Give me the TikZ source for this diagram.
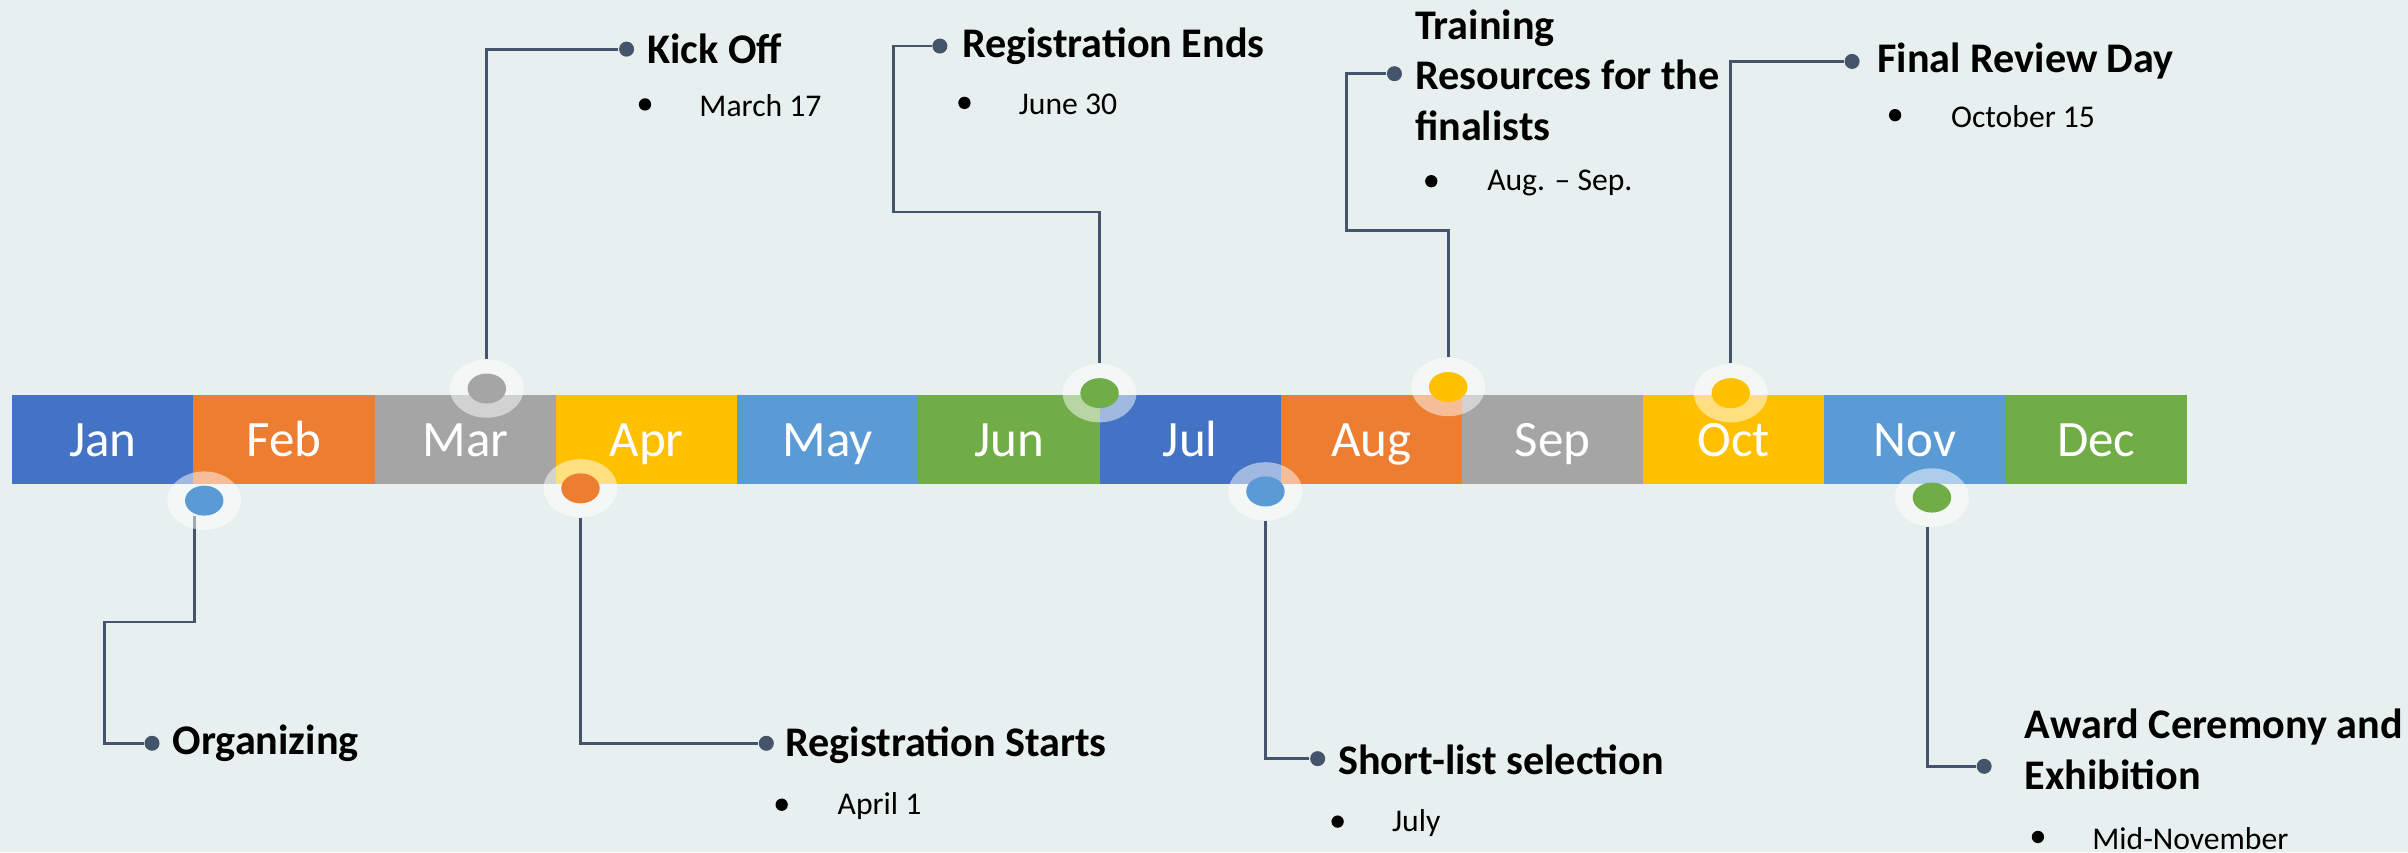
\documentclass[tikz,border=0pt]{standalone}
\usepackage{fontspec}
\setmainfont{Carlito}
\usetikzlibrary{shapes.geometric,backgrounds}
\definecolor{bgc}{HTML}{E7F0EE}
\definecolor{cBlue}{HTML}{4472C4}
\definecolor{cOrange}{HTML}{ED7D31}
\definecolor{cGray}{HTML}{A5A5A5}
\definecolor{cGold}{HTML}{FFC000}
\definecolor{cLBlue}{HTML}{5B9BD5}
\definecolor{cGreen}{HTML}{70AD47}
\definecolor{lineC}{HTML}{44546A}
\tikzset{
  month/.style={rectangle, minimum width=1.812cm, minimum height=0.89cm, inner sep=0pt, text=white, text height=10pt, text depth=0pt, font=\fontsize{14.5}{16}\selectfont},
  halo/.style={ellipse, fill=white, fill opacity=0.5, minimum width=0.737cm, minimum height=0.584cm, inner sep=0pt},
  mdot/.style={ellipse, minimum width=0.384cm, minimum height=0.30cm, inner sep=0pt},
  enddot/.style={circle, fill=lineC, minimum size=0.15cm, inner sep=0pt},
  conn/.style={draw=lineC, line width=0.8pt},
  head/.style={anchor=west, inner sep=0pt, align=left, font=\bfseries\fontsize{12}{14.3}\selectfont},
  bul/.style={circle, fill=black, minimum size=0.123cm, inner sep=0pt},
  subt/.style={anchor=west, inner sep=0pt, font=\fontsize{9}{11}\selectfont},
}
\begin{document}
\begin{tikzpicture}[x=0.015357cm,y=-0.015357cm]
\useasboundingbox (0,0) rectangle (1568,555);
% months
\foreach \n/\c [count=\i] in {Jan/cBlue,Feb/cOrange,Mar/cGray,Apr/cGold,May/cLBlue,Jun/cGreen,Jul/cBlue,Aug/cOrange,Sep/cGray,Oct/cGold,Nov/cLBlue,Dec/cGreen}
  \node[month, fill=\c] (m\i) at ({8+118*(\i-0.5)},286) {\n};
% markers
\foreach \nm/\x/\y/\c in {k1/133/326/cLBlue, k2/317/253/cGray, k3/378/318/cOrange, k4/716/256/cGreen, k5/824/320/cLBlue, k6/943/252/cGold, k7/1127/256/cGold, k8/1258/324/cGreen}{
  \node[halo] (\nm) at (\x,\y) {};
  \node[mdot, fill=\c] (\nm d) at (\x,\y) {};
}
% end dots
\node[enddot] (e1) at (99,484) {};
\node[enddot] (e2) at (408,32) {};
\node[enddot] (e3) at (499,484) {};
\node[enddot] (e4) at (612,30) {};
\node[enddot] (e5) at (858,494) {};
\node[enddot] (e6) at (908,48) {};
\node[enddot] (e7) at (1206,40) {};
\node[enddot] (e8) at (1292,499) {};
% bend points
\coordinate (b1) at (68,405);
\coordinate (b4) at (582,138);
\coordinate (b6) at (877,150);
% connectors and background
\begin{scope}[on background layer]
\fill[bgc] (0,0) rectangle (1568,555);
\draw[conn] ([xshift=-0.1cm]k1d.south) |- (b1) |- (e1);
\draw[conn] (k2.north) |- (e2);
\draw[conn] (k3.south) |- (e3);
\draw[conn] (k4.north) |- (b4) |- (e4);
\draw[conn] (k5.south) |- (e5);
\draw[conn] (k6.north) |- (b6) |- (e6);
\draw[conn] (k7.north) |- (e7);
\draw[conn] ([xshift=-0.046cm]k8.south) |- (e8);
\end{scope}
% headings
\node[head] (t1) at (112,484) {Organizing};
\node[head] (t2) at (421,32) {Kick Off};
\node[head] (t3) at (511,485) {Registration Starts};
\node[head] (t4) at (626,30) {Registration Ends};
\node[head] (t5) at (871,495) {Short-list selection};
\node[head] (t6) at (921,49) {Training\\Resources for the\\finalists};
\node[head] (t7) at (1222,40) {Final Review Day};
\node[head] (t8) at (1318,488) {Award Ceremony and\\Exhibition};
% sub items
\node[bul] (u2) at (420,68) {}; \node[subt] (s2) at (455,69) {March 17};
\node[bul] (u3) at (509,524) {}; \node[subt] (s3) at (545,525) {April 1};
\node[bul] (u4) at (628,67) {}; \node[subt] (s4) at (663,68) {June 30};
\node[bul] (u5) at (871,535) {}; \node[subt] (s5) at (906,536) {July};
\node[bul] (u6) at (932,118) {}; \node[subt] (s6) at (968,119) {Aug. -- Sep.};
\node[bul] (u7) at (1234,75) {}; \node[subt] (s7) at (1270,76) {October 15};
\node[bul] (u8) at (1327,545) {}; \node[subt] (s8) at (1362,546) {Mid-November};
\end{tikzpicture}
\end{document}
